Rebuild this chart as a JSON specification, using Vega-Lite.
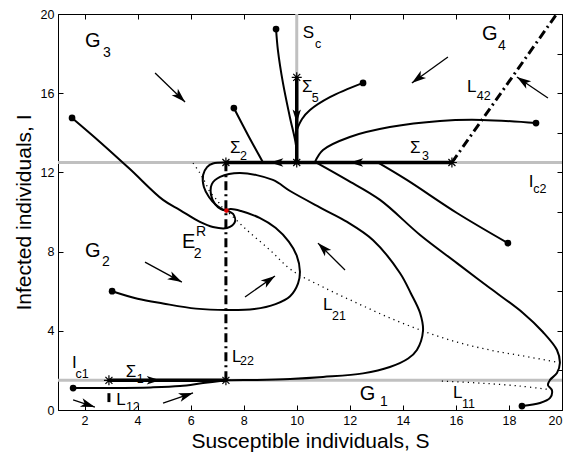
{
 "$schema": "https://vega.github.io/schema/vega-lite/v6.json",
 "width": 504, "height": 396,
 "autosize": {"type": "none"},
 "padding": {"left": 58, "top": 14, "right": 8, "bottom": 47},
 "background": "white",
 "config": {
  "font": "Liberation Sans",
  "view": {"stroke": "black", "strokeWidth": 1},
  "axis": {"grid": false, "domainColor": "black", "tickColor": "black", "labelColor": "black", "titleColor": "black", "labelFont": "Liberation Sans", "titleFont": "Liberation Sans", "labelFontSize": 12.5, "titleFontSize": 21, "titleFontWeight": "normal", "tickSize": -5, "labelPadding": 9}
 },
 "datasets": {
  "gray": [
   {"S": 1, "I": 12.5, "S2": 20, "I2": 12.5},
   {"S": 1, "I": 1.5, "S2": 20, "I2": 1.5},
   {"S": 10, "I": 12.5, "S2": 10, "I2": 20}
  ],
  "dashdot": [
   {"S": 15.85, "I": 12.5, "S2": 19.8, "I2": 20},
   {"S": 7.33, "I": 1.5, "S2": 7.33, "I2": 12.5},
   {"S": 2.92, "I": 0.4, "S2": 2.92, "I2": 0.85}
  ],
  "sliding": [
   {"S": 7.33, "I": 12.5, "S2": 15.85, "I2": 12.5},
   {"S": 10, "I": 12.5, "S2": 10, "I2": 16.8},
   {"S": 2.92, "I": 1.5, "S2": 7.33, "I2": 1.5}
  ],
  "dotted": [
   {"id": "L21", "k": 0, "S": 6.09, "I": 12.47},
   {"id": "L21", "k": 1, "S": 6.35, "I": 11.97},
   {"id": "L21", "k": 2, "S": 6.54, "I": 11.52},
   {"id": "L21", "k": 3, "S": 6.73, "I": 11.01},
   {"id": "L21", "k": 4, "S": 6.99, "I": 10.61},
   {"id": "L21", "k": 5, "S": 7.18, "I": 10.25},
   {"id": "L21", "k": 6, "S": 7.35, "I": 10.07},
   {"id": "L21", "k": 7, "S": 8.12, "I": 9.09},
   {"id": "L21", "k": 8, "S": 8.99, "I": 8.08},
   {"id": "L21", "k": 9, "S": 9.8, "I": 7.07},
   {"id": "L21", "k": 10, "S": 10.99, "I": 6.21},
   {"id": "L21", "k": 11, "S": 12.27, "I": 5.4},
   {"id": "L21", "k": 12, "S": 13.51, "I": 4.65},
   {"id": "L21", "k": 13, "S": 14.76, "I": 3.99},
   {"id": "L21", "k": 14, "S": 16.04, "I": 3.43},
   {"id": "L21", "k": 15, "S": 17.28, "I": 3.03},
   {"id": "L21", "k": 16, "S": 18.53, "I": 2.73},
   {"id": "L21", "k": 17, "S": 19.81, "I": 2.42},
   {"id": "L11", "k": 0, "S": 15.47, "I": 1.46},
   {"id": "L11", "k": 1, "S": 16.9, "I": 1.36},
   {"id": "L11", "k": 2, "S": 18.4, "I": 1.21},
   {"id": "L11", "k": 3, "S": 19.66, "I": 1.01}
  ],
  "traj": [
   {"id": "A", "k": 0, "S": 1.53, "I": 14.75},
   {"id": "A", "k": 1, "S": 2.58, "I": 13.54},
   {"id": "A", "k": 2, "S": 3.71, "I": 12.17},
   {"id": "A", "k": 3, "S": 4.96, "I": 10.61},
   {"id": "A", "k": 4, "S": 5.6, "I": 10.1},
   {"id": "A", "k": 5, "S": 6.35, "I": 9.5},
   {"id": "A", "k": 6, "S": 6.84, "I": 9.24},
   {"id": "A", "k": 7, "S": 7.37, "I": 9.19},
   {"id": "A", "k": 8, "S": 7.67, "I": 9.5},
   {"id": "A", "k": 9, "S": 7.6, "I": 9.9},
   {"id": "A", "k": 10, "S": 7.35, "I": 10.07},
   {"id": "B", "k": 0, "S": 7.33, "I": 12.5},
   {"id": "B", "k": 1, "S": 6.84, "I": 12.45},
   {"id": "B", "k": 2, "S": 6.62, "I": 12.27},
   {"id": "B", "k": 3, "S": 6.47, "I": 11.87},
   {"id": "B", "k": 4, "S": 6.5, "I": 11.26},
   {"id": "B", "k": 5, "S": 6.69, "I": 10.76},
   {"id": "B", "k": 6, "S": 6.96, "I": 10.35},
   {"id": "B", "k": 7, "S": 7.18, "I": 10.15},
   {"id": "B", "k": 8, "S": 7.35, "I": 10.07},
   {"id": "C", "k": 0, "S": 1.57, "I": 1.11},
   {"id": "C", "k": 1, "S": 3.0, "I": 1.11},
   {"id": "C", "k": 2, "S": 4.5, "I": 1.14},
   {"id": "C", "k": 3, "S": 5.6, "I": 1.21},
   {"id": "C", "k": 4, "S": 6.47, "I": 1.36},
   {"id": "C", "k": 5, "S": 7.33, "I": 1.5},
   {"id": "D", "k": 0, "S": 3.04, "I": 6.0},
   {"id": "D", "k": 1, "S": 4.0, "I": 5.62},
   {"id": "D", "k": 2, "S": 4.96, "I": 5.38},
   {"id": "D", "k": 3, "S": 6.2, "I": 5.12},
   {"id": "D", "k": 4, "S": 7.37, "I": 5.05},
   {"id": "D", "k": 5, "S": 8.4, "I": 5.1},
   {"id": "D", "k": 6, "S": 9.2, "I": 5.35},
   {"id": "D", "k": 7, "S": 9.75, "I": 5.75},
   {"id": "D", "k": 8, "S": 10.05, "I": 6.4},
   {"id": "D", "k": 9, "S": 10.12, "I": 7.0},
   {"id": "D", "k": 10, "S": 10.0, "I": 7.8},
   {"id": "D", "k": 11, "S": 9.7, "I": 8.5},
   {"id": "D", "k": 12, "S": 9.2, "I": 9.2},
   {"id": "D", "k": 13, "S": 8.6, "I": 9.7},
   {"id": "D", "k": 14, "S": 7.9, "I": 10.05},
   {"id": "D", "k": 15, "S": 7.5, "I": 10.15},
   {"id": "D", "k": 16, "S": 7.35, "I": 10.07},
   {"id": "E", "k": 0, "S": 7.33, "I": 1.5},
   {"id": "E", "k": 1, "S": 8.5, "I": 1.52},
   {"id": "E", "k": 2, "S": 9.75, "I": 1.57},
   {"id": "E", "k": 3, "S": 10.99, "I": 1.67},
   {"id": "E", "k": 4, "S": 12.5, "I": 1.85},
   {"id": "E", "k": 5, "S": 13.51, "I": 2.17},
   {"id": "E", "k": 6, "S": 14.2, "I": 2.6},
   {"id": "E", "k": 7, "S": 14.53, "I": 3.03},
   {"id": "E", "k": 8, "S": 14.76, "I": 4.0},
   {"id": "E", "k": 9, "S": 14.65, "I": 4.9},
   {"id": "E", "k": 10, "S": 14.3, "I": 5.9},
   {"id": "E", "k": 11, "S": 13.89, "I": 6.92},
   {"id": "E", "k": 12, "S": 12.87, "I": 8.59},
   {"id": "E", "k": 13, "S": 11.9, "I": 9.5},
   {"id": "E", "k": 14, "S": 10.99, "I": 10.15},
   {"id": "E", "k": 15, "S": 9.75, "I": 11.06},
   {"id": "E", "k": 16, "S": 9.1, "I": 11.62},
   {"id": "E", "k": 17, "S": 7.86, "I": 11.97},
   {"id": "E", "k": 18, "S": 7.11, "I": 11.77},
   {"id": "E", "k": 19, "S": 6.8, "I": 11.41},
   {"id": "E", "k": 20, "S": 6.77, "I": 10.86},
   {"id": "E", "k": 21, "S": 6.92, "I": 10.4},
   {"id": "E", "k": 22, "S": 7.14, "I": 10.15},
   {"id": "E", "k": 23, "S": 7.35, "I": 10.07},
   {"id": "F", "k": 0, "S": 10.69, "I": 12.53},
   {"id": "F", "k": 1, "S": 11.89, "I": 11.62},
   {"id": "F", "k": 2, "S": 13.14, "I": 10.61},
   {"id": "F", "k": 3, "S": 14.65, "I": 8.84},
   {"id": "F", "k": 4, "S": 16.04, "I": 7.42},
   {"id": "F", "k": 5, "S": 17.28, "I": 6.16},
   {"id": "F", "k": 6, "S": 18.53, "I": 4.9},
   {"id": "F", "k": 7, "S": 19.28, "I": 3.94},
   {"id": "F", "k": 8, "S": 19.81, "I": 3.03},
   {"id": "F", "k": 9, "S": 19.92, "I": 2.37},
   {"id": "F", "k": 10, "S": 19.81, "I": 1.87},
   {"id": "F", "k": 11, "S": 19.55, "I": 1.52},
   {"id": "F", "k": 12, "S": 19.47, "I": 1.26},
   {"id": "F", "k": 13, "S": 19.62, "I": 1.01},
   {"id": "F", "k": 14, "S": 19.55, "I": 0.61},
   {"id": "F", "k": 15, "S": 19.17, "I": 0.35},
   {"id": "F", "k": 16, "S": 18.49, "I": 0.2},
   {"id": "G", "k": 0, "S": 13.02, "I": 12.53},
   {"id": "G", "k": 1, "S": 14.15, "I": 11.62},
   {"id": "G", "k": 2, "S": 16.04, "I": 9.95},
   {"id": "G", "k": 3, "S": 17.96, "I": 8.43},
   {"id": "H", "k": 0, "S": 10.69, "I": 12.53},
   {"id": "H", "k": 1, "S": 10.99, "I": 13.13},
   {"id": "H", "k": 2, "S": 12.0, "I": 13.79},
   {"id": "H", "k": 3, "S": 13.51, "I": 14.29},
   {"id": "H", "k": 4, "S": 15.4, "I": 14.6},
   {"id": "H", "k": 5, "S": 16.98, "I": 14.65},
   {"id": "H", "k": 6, "S": 19.02, "I": 14.49},
   {"id": "I", "k": 0, "S": 10.0, "I": 14.14},
   {"id": "I", "k": 1, "S": 10.2, "I": 14.7},
   {"id": "I", "k": 2, "S": 10.5, "I": 15.15},
   {"id": "I", "k": 3, "S": 11.25, "I": 15.8},
   {"id": "I", "k": 4, "S": 12.5, "I": 16.52},
   {"id": "J", "k": 0, "S": 9.22, "I": 19.24},
   {"id": "J", "k": 1, "S": 9.29, "I": 18.18},
   {"id": "J", "k": 2, "S": 9.48, "I": 16.52},
   {"id": "J", "k": 3, "S": 9.74, "I": 14.8},
   {"id": "J", "k": 4, "S": 9.97, "I": 13.38},
   {"id": "J", "k": 5, "S": 10.0, "I": 12.5},
   {"id": "K", "k": 0, "S": 7.63, "I": 15.25},
   {"id": "K", "k": 1, "S": 8.16, "I": 13.89},
   {"id": "K", "k": 2, "S": 8.73, "I": 12.5}
  ],
  "dots": [
   {"S": 1.53, "I": 14.75}, {"S": 1.57, "I": 1.11}, {"S": 3.04, "I": 6.0},
   {"S": 18.49, "I": 0.2}, {"S": 17.96, "I": 8.43}, {"S": 19.02, "I": 14.49},
   {"S": 12.5, "I": 16.52}, {"S": 9.22, "I": 19.24}, {"S": 7.63, "I": 15.25}
  ],
  "stars": [
   {"S": 7.33, "I": 12.5}, {"S": 10, "I": 12.5}, {"S": 10, "I": 16.8},
   {"S": 15.85, "I": 12.5}, {"S": 2.92, "I": 1.5}, {"S": 7.33, "I": 1.5}
  ],
  "eq": [{"S": 7.35, "I": 10.07}],
  "arrows": [
   {"S": 4.66, "I": 17.02, "S2": 5.79, "I2": 15.56, "ang": 134},
   {"S": 15.7, "I": 17.83, "S2": 14.34, "I2": 16.52, "ang": 234},
   {"S": 19.47, "I": 15.76, "S2": 18.3, "I2": 16.82, "ang": 304},
   {"S": 4.28, "I": 7.47, "S2": 5.67, "I2": 6.46, "ang": 118},
   {"S": 8.05, "I": 5.71, "S2": 9.18, "I2": 6.77, "ang": 55},
   {"S": 11.82, "I": 7.07, "S2": 10.8, "I2": 8.43, "ang": 315},
   {"S": 1.57, "I": 0.51, "S2": 2.39, "I2": 0.15, "ang": 108},
   {"S": 4.96, "I": 0.35, "S2": 6.09, "I2": 0.86, "ang": 72}
  ],
  "heads": [
   {"S": 8.99, "I": 12.5, "ang": 270},
   {"S": 12.0, "I": 12.5, "ang": 270},
   {"S": 10, "I": 14.5, "ang": 180},
   {"S": 4.85, "I": 1.5, "ang": 90}
  ],
  "labels": [
   {"t": "G", "S": 2.02, "I": 18.33, "kind": "big"}, {"t": "3", "S": 2.7, "I": 17.83, "kind": "bigsub"},
   {"t": "G", "S": 16.98, "I": 18.69, "kind": "big"}, {"t": "4", "S": 17.59, "I": 18.18, "kind": "bigsub"},
   {"t": "G", "S": 2.02, "I": 7.73, "kind": "big"}, {"t": "2", "S": 2.66, "I": 7.27, "kind": "bigsub"},
   {"t": "G", "S": 12.38, "I": 0.5, "kind": "big"}, {"t": "1", "S": 13.14, "I": 0.2, "kind": "bigsub"},
   {"t": "E", "S": 5.67, "I": 8.18, "kind": "big"}, {"t": "2", "S": 6.12, "I": 7.68, "kind": "bigsub"}, {"t": "R", "S": 6.2, "I": 8.78, "kind": "bigsub"},
   {"t": "S", "S": 10.23, "I": 18.79, "kind": "main"}, {"t": "c", "S": 10.69, "I": 18.28, "kind": "sub"},
   {"t": "Σ", "S": 10.2, "I": 16.06, "kind": "main"}, {"t": "5", "S": 10.57, "I": 15.56, "kind": "sub"},
   {"t": "Σ", "S": 7.48, "I": 12.98, "kind": "main"}, {"t": "2", "S": 7.86, "I": 12.63, "kind": "sub"},
   {"t": "Σ", "S": 14.27, "I": 12.98, "kind": "main"}, {"t": "3", "S": 14.72, "I": 12.63, "kind": "sub"},
   {"t": "L", "S": 16.42, "I": 16.06, "kind": "main"}, {"t": "42", "S": 16.79, "I": 15.66, "kind": "sub"},
   {"t": "I", "S": 18.75, "I": 11.26, "kind": "main"}, {"t": "c2", "S": 18.92, "I": 10.98, "kind": "sub"},
   {"t": "L", "S": 10.99, "I": 5.05, "kind": "main"}, {"t": "21", "S": 11.33, "I": 4.55, "kind": "sub"},
   {"t": "L", "S": 7.56, "I": 2.42, "kind": "main"}, {"t": "22", "S": 7.86, "I": 2.27, "kind": "sub"},
   {"t": "I", "S": 1.53, "I": 2.12, "kind": "main"}, {"t": "c1", "S": 1.66, "I": 1.64, "kind": "sub"},
   {"t": "Σ", "S": 3.55, "I": 1.68, "kind": "main"}, {"t": "1", "S": 3.97, "I": 1.37, "kind": "sub"},
   {"t": "L", "S": 3.2, "I": 0.25, "kind": "main"}, {"t": "12", "S": 3.56, "I": -0.05, "kind": "sub"},
   {"t": "L", "S": 15.89, "I": 0.61, "kind": "main"}, {"t": "11", "S": 16.23, "I": 0.1, "kind": "sub"}
  ]
 },
 "resolve": {"axis": {"x": "independent", "y": "independent"}},
 "layer": [
  {
   "layer": [
    {
     "data": {"name": "gray"},
     "mark": {"type": "rule", "color": "#c0c0c0", "strokeWidth": 3},
     "encoding": {
      "x": {"field": "S", "type": "quantitative", "scale": {"domain": [1, 20], "nice": false, "zero": false}, "axis": {"title": "Susceptible individuals, S", "values": [2, 4, 6, 8, 10, 12, 14, 16, 18, 20], "titlePadding": 4}},
      "y": {"field": "I", "type": "quantitative", "scale": {"domain": [0, 20], "nice": false, "zero": false}, "axis": {"title": "Infected individuals, I", "values": [0, 2, 4, 6, 8, 10, 12, 14, 16, 18, 20], "titlePadding": 6}},
      "x2": {"field": "S2"}, "y2": {"field": "I2"}
     }
    },
    {
     "data": {"name": "dotted"},
     "mark": {"type": "line", "color": "black", "strokeWidth": 1.3, "strokeDash": [1.2, 4], "interpolate": "catmull-rom"},
     "encoding": {"x": {"field": "S", "type": "quantitative"}, "y": {"field": "I", "type": "quantitative"}, "detail": {"field": "id"}, "order": {"field": "k", "type": "quantitative"}}
    },
    {
     "data": {"name": "dashdot"},
     "mark": {"type": "rule", "color": "black", "strokeWidth": 3, "strokeDash": [9, 4, 2, 4]},
     "encoding": {"x": {"field": "S", "type": "quantitative"}, "y": {"field": "I", "type": "quantitative"}, "x2": {"field": "S2"}, "y2": {"field": "I2"}}
    },
    {
     "data": {"name": "traj"},
     "mark": {"type": "line", "color": "black", "strokeWidth": 2, "interpolate": "catmull-rom"},
     "encoding": {"x": {"field": "S", "type": "quantitative"}, "y": {"field": "I", "type": "quantitative"}, "detail": {"field": "id"}, "order": {"field": "k", "type": "quantitative"}}
    },
    {
     "data": {"name": "sliding"},
     "mark": {"type": "rule", "color": "black", "strokeWidth": 3.5},
     "encoding": {"x": {"field": "S", "type": "quantitative"}, "y": {"field": "I", "type": "quantitative"}, "x2": {"field": "S2"}, "y2": {"field": "I2"}}
    },
    {
     "data": {"name": "arrows"},
     "mark": {"type": "rule", "color": "black", "strokeWidth": 1.3},
     "encoding": {"x": {"field": "S", "type": "quantitative"}, "y": {"field": "I", "type": "quantitative"}, "x2": {"field": "S2"}, "y2": {"field": "I2"}}
    },
    {
     "data": {"name": "arrows"},
     "mark": {"type": "point", "shape": "M0,0L0.5,1.6L0,1.2L-0.5,1.6Z", "filled": true, "color": "black", "size": 320, "opacity": 1},
     "encoding": {"x": {"field": "S2", "type": "quantitative"}, "y": {"field": "I2", "type": "quantitative"}, "angle": {"field": "ang", "type": "quantitative", "scale": null}}
    },
    {
     "data": {"name": "heads"},
     "mark": {"type": "point", "shape": "M0,0L0.5,1.6L0,1.2L-0.5,1.6Z", "filled": true, "color": "black", "size": 280, "opacity": 1},
     "encoding": {"x": {"field": "S", "type": "quantitative"}, "y": {"field": "I", "type": "quantitative"}, "angle": {"field": "ang", "type": "quantitative", "scale": null}}
    },
    {
     "data": {"name": "stars"},
     "mark": {"type": "point", "shape": "M-1,0L1,0M0,-1L0,1M-0.7,-0.7L0.7,0.7M-0.7,0.7L0.7,-0.7", "filled": false, "color": "black", "size": 100, "strokeWidth": 1.2, "opacity": 1},
     "encoding": {"x": {"field": "S", "type": "quantitative"}, "y": {"field": "I", "type": "quantitative"}}
    },
    {
     "data": {"name": "dots"},
     "mark": {"type": "circle", "color": "black", "size": 45, "opacity": 1},
     "encoding": {"x": {"field": "S", "type": "quantitative"}, "y": {"field": "I", "type": "quantitative"}}
    },
    {
     "data": {"name": "eq"},
     "mark": {"type": "circle", "color": "#e00000", "size": 22, "opacity": 1},
     "encoding": {"x": {"field": "S", "type": "quantitative"}, "y": {"field": "I", "type": "quantitative"}}
    },
    {
     "data": {"name": "labels"},
     "transform": [{"filter": "datum.kind === 'big'"}],
     "mark": {"type": "text", "align": "left", "baseline": "alphabetic", "fontSize": 20, "font": "Liberation Sans", "color": "black"},
     "encoding": {"x": {"field": "S", "type": "quantitative"}, "y": {"field": "I", "type": "quantitative"}, "text": {"field": "t"}}
    },
    {
     "data": {"name": "labels"},
     "transform": [{"filter": "datum.kind === 'bigsub'"}],
     "mark": {"type": "text", "align": "left", "baseline": "alphabetic", "fontSize": 14, "font": "Liberation Sans", "color": "black"},
     "encoding": {"x": {"field": "S", "type": "quantitative"}, "y": {"field": "I", "type": "quantitative"}, "text": {"field": "t"}}
    },
    {
     "data": {"name": "labels"},
     "transform": [{"filter": "datum.kind === 'main'"}],
     "mark": {"type": "text", "align": "left", "baseline": "alphabetic", "fontSize": 17, "font": "Liberation Sans", "color": "black"},
     "encoding": {"x": {"field": "S", "type": "quantitative"}, "y": {"field": "I", "type": "quantitative"}, "text": {"field": "t"}}
    },
    {
     "data": {"name": "labels"},
     "transform": [{"filter": "datum.kind === 'sub'"}],
     "mark": {"type": "text", "align": "left", "baseline": "alphabetic", "fontSize": 12.5, "font": "Liberation Sans", "color": "black"},
     "encoding": {"x": {"field": "S", "type": "quantitative"}, "y": {"field": "I", "type": "quantitative"}, "text": {"field": "t"}}
    }
   ]
  },
  {
   "data": {"name": "dots"},
   "mark": {"type": "point", "opacity": 0},
   "encoding": {
    "x": {"field": "S", "type": "quantitative", "scale": {"domain": [1, 20], "nice": false, "zero": false}, "axis": {"orient": "top", "labels": false, "title": null, "domain": false, "values": [2, 4, 6, 8, 10, 12, 14, 16, 18, 20]}},
    "y": {"field": "I", "type": "quantitative", "scale": {"domain": [0, 20], "nice": false, "zero": false}, "axis": {"orient": "right", "labels": false, "title": null, "domain": false, "values": [0, 2, 4, 6, 8, 10, 12, 14, 16, 18, 20]}}
   }
  }
 ]
}
